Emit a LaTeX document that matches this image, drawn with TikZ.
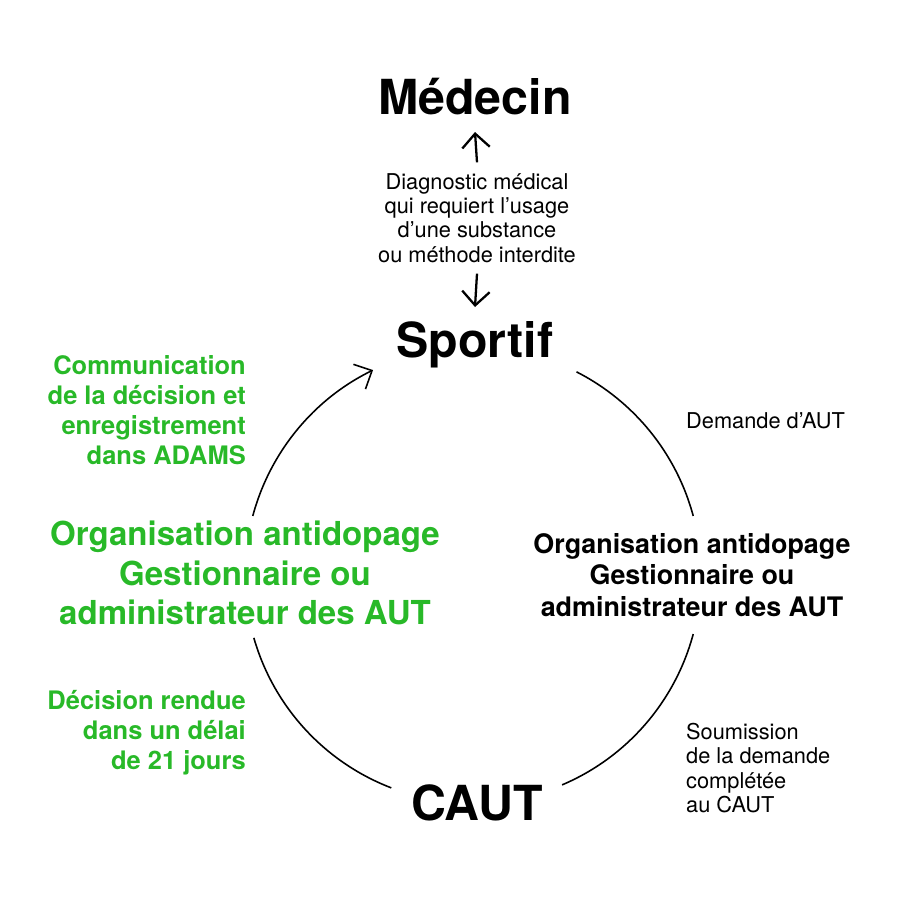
\documentclass[tikz,border=0pt]{standalone}
\usepackage{fontspec}
\setmainfont{TeX Gyre Heros}
\usetikzlibrary{positioning, arrows.meta}
\definecolor{vert}{RGB}{40,185,40}
\begin{document}
\begin{tikzpicture}[x=0.02cm, y=-0.02cm,
    titre/.style={font=\fontsize{27.5}{30}\selectfont\bfseries},
    petit/.style={font=\fontsize{12.4}{13.8}\selectfont, align=center},
    gros/.style={font=\fontsize{15.3}{18}\selectfont\bfseries, align=center},
    vertgros/.style={font=\fontsize{18.8}{22.5}\selectfont\bfseries, align=center, text=vert},
    vertpetit/.style={font=\fontsize{14.5}{17}\selectfont\bfseries, align=right, text=vert},
    fleche/.style={line width=1.3pt, -{Straight Barb[length=2.8mm, width=5.5mm]}},
    arc/.style={line width=0.9pt}]
    \useasboundingbox (0,0) rectangle (900,900);

    % Noeuds
    \node (medecin) [titre] at (475,97) {Médecin};
    \node (diag) [petit] at (477,218) {Diagnostic médical\\qui requiert l’usage\\d’une substance\\ou méthode interdite};
    \node (sportif) [titre] at (475,345) {Sportif};
    \node (caut) [titre] at (477,803) {CAUT};
    \node (oadroite) [gros] at (692,575) {Organisation antidopage\\Gestionnaire ou\\administrateur des AUT};
    \node (oagauche) [vertgros] at (245,573) {Organisation antidopage\\Gestionnaire ou\\administrateur des AUT};
    \node (demande) [petit, anchor=west] at (680,421) {Demande d’AUT};
    \node (soumission) [petit, anchor=west, align=left] at (680,768) {Soumission\\de la demande\\complétée\\au CAUT};
    \node (communication) [vertpetit, anchor=east] at (252,410) {Communication\\de la décision et\\enregistrement\\dans ADAMS};
    \node (decision) [vertpetit, anchor=east] at (252,733) {Décision rendue\\dans un délai\\de 21 jours};

    % Fleches verticales
    \draw[fleche] (diag.north) ++(0,-5) coordinate (d1) -- (medecin.south |- 0,132);
    \draw[fleche] (diag.south) ++(0,5) coordinate (d2) -- (sportif.north |- 0,307);

    % Cercle
    \coordinate (centre) at (473,575);
    \draw[arc] (centre) ++(-63:228) arc[start angle=-63, end angle=-15, radius=228];
    \draw[arc] (centre) ++(15:228) arc[start angle=15, end angle=67, radius=228];
    \draw[arc] (centre) ++(111:228) arc[start angle=111, end angle=164, radius=228];
    \draw[arc, fleche, line width=0.9pt] (centre) ++(-165:228) arc[start angle=-165, end angle=-116, radius=228];
\end{tikzpicture}
\end{document}
